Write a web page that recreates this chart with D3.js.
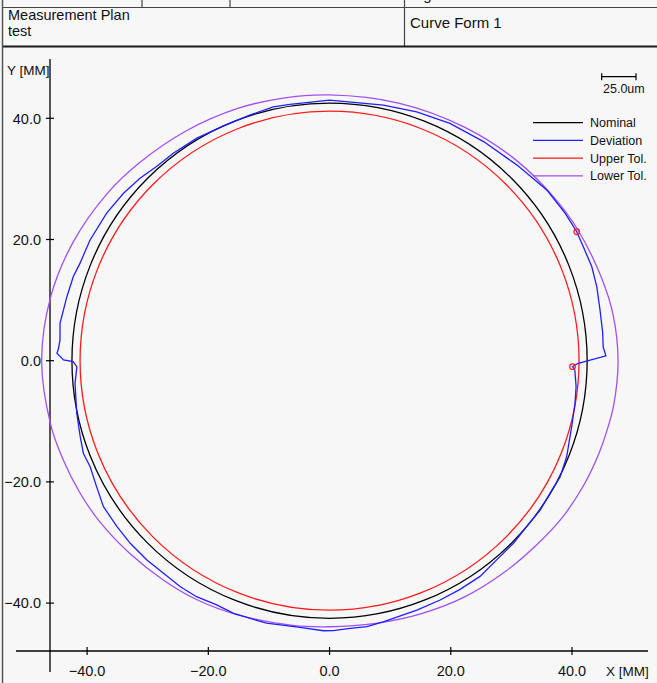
<!DOCTYPE html>
<html>
<head>
<meta charset="utf-8">
<script src="https://cdn.jsdelivr.net/npm/d3@7"></script>
<style>
  html, body { margin: 0; padding: 0; background: #f7f7f7; }
  svg { display: block; font-family: "Liberation Sans", Arial, sans-serif; }
</style>
</head>
<body>
<svg id="chart" width="657" height="683"></svg>
<script>
// ---------- DATA ----------
const xTicks = [-40, -20, 0, 20, 40];
const yTicks = [-40, -20, 0, 20, 40];
const seriesNames = ["Nominal", "Deviation", "Upper Tol.", "Lower Tol."];
const seriesColors = ["#000000", "#1f1fff", "#ff1a1a", "#a24ff0"];

// Nominal and upper tolerance circles (radius in MM, plot units)
const nominalRadius = 42.5;
const upperTolRadius = 41.16;

// Lower tolerance: polar table (angle deg, radius MM)
const lowerTolAngles = [0, 9, 17, 28, 36, 47, 60, 75, 90, 100, 110, 122, 134, 143, 155, 167, 180,
  193, 200, 208, 215, 224, 233, 241, 250, 262, 270, 280, 290, 300, 310, 318, 326, 334, 341, 346, 351];
const lowerTolRadii = [47.6, 47.4, 46.9, 46.3, 45.8, 45.2, 44.5, 44.0, 43.85, 44.0, 44.3, 44.7, 45.3, 45.9, 46.6, 47.2, 47.5,
  47.2, 46.9, 46.6, 46.3, 45.8, 45.4, 45.1, 44.6, 44.1, 43.9, 44.0, 44.4, 44.9, 45.3, 45.7, 46.3, 46.7, 47.0, 47.2, 47.45];

// Deviation: measured path (angle deg, radius MM), in scan order from the start point
const deviationAngles = [358.6, 357.8, 354, 350.2, 344.8, 338, 333.3, 329, 324.7, 319.9, 315.2, 310, 304.9, 299.6, 294.8,
  289.3, 281.6, 278, 274.4, 270.8, 268.7, 263.7, 256.5, 249.2, 245.2, 240.6, 236.5, 232, 227.5, 222.5, 218, 212.8,
  208.4, 203.9, 200.6, 196.9, 191.75, 185.1, 181.4, 180.2, 179.85, 178.4, 177.7, 175.6, 172.1, 166.3, 161.8, 158.7,
  153.3, 146.5, 140.9, 136.1, 131.7, 127, 120.8, 114.4, 108, 102.5, 98.8, 90, 78.1, 70.7, 63.1, 54.9, 46.3, 38, 32,
  27.55, 24.2, 19.7, 15.5, 10.6, 6, 2.9, 1, 359.4];
const deviationRadii = [40.1, 40.5, 40.9, 41.1, 41.4, 42.2, 42.6, 42.45, 42.6, 42.5, 42.75, 42.9, 43.4, 43.45, 43.5,
  43.6, 44.0, 44.3, 44.3, 44.56, 44.57, 44.26, 44.55, 44.6, 44.4, 44.7, 44.7, 44.5, 44.6, 44.6, 44.5, 44.4,
  43.7, 43.2, 43.4, 43.0, 42.6, 42.16, 41.7, 42.3, 43.9, 45.0, 44.8, 44.6, 44.9, 44.6, 44.5, 44.2,
  44.25, 44.1, 43.8, 43.4, 42.9, 42.85, 42.75, 42.5, 42.6, 42.9, 42.8, 43.0, 43.1, 43.5, 43.9, 44.2, 44.7, 45.6, 45.85,
  46.0, 45.9, 45.96, 45.75, 45.4, 45.3, 45.2, 45.6, 41.05];
// Marked deviation points (indices into the deviation arrays)
const markedPoints = [0, 67];

const scaleBarLabel = "25.0um";
const scaleBarMM = 5.66; // 25 um shown at this plot length

const headerLeft1 = "Measurement Plan";
const headerLeft2 = "test";
const headerRight = "Curve Form 1";
const headerTopCut = "Signature";

// ---------- DRAW ----------
const svg = d3.select("#chart");
const W = 657, H = 683;
svg.append("rect").attr("width", W).attr("height", H).attr("fill", "#f7f7f7");

const x = d3.scaleLinear().domain([-40, 40]).range([87.1, 572]);
const y = d3.scaleLinear().domain([-40, 40]).range([603.1, 118.3]);
const rad = d => d * Math.PI / 180;

// Header table
const gH = svg.append("g");
gH.append("text").attr("x", 410).attr("y", -0.5).attr("font-size", 15).attr("fill", "#111").text(headerTopCut);
gH.append("line").attr("x1", 2).attr("x2", W).attr("y1", 7.5).attr("y2", 7.5).attr("stroke", "#444").attr("stroke-width", 1.2);
[142, 230].forEach(px => gH.append("line").attr("x1", px).attr("x2", px).attr("y1", 0).attr("y2", 7.5).attr("stroke", "#444").attr("stroke-width", 1.2));
gH.append("line").attr("x1", 404.5).attr("x2", 404.5).attr("y1", 0).attr("y2", 46).attr("stroke", "#444").attr("stroke-width", 1.2);
gH.append("line").attr("x1", 2).attr("x2", W).attr("y1", 46.5).attr("y2", 46.5).attr("stroke", "#1a1a1a").attr("stroke-width", 2);
gH.append("line").attr("x1", 2.5).attr("x2", 2.5).attr("y1", 0).attr("y2", H).attr("stroke", "#555").attr("stroke-width", 1.5);
gH.append("text").attr("x", 8).attr("y", 19.8).attr("font-size", 14.5).attr("fill", "#111").text(headerLeft1);
gH.append("text").attr("x", 8).attr("y", 35.5).attr("font-size", 14.5).attr("fill", "#111").text(headerLeft2);
gH.append("text").attr("x", 410).attr("y", 27.5).attr("font-size", 15).attr("fill", "#111").text(headerRight);

// Axes
const gA = svg.append("g").attr("stroke", "#000");
gA.append("line").attr("x1", 50).attr("x2", 50).attr("y1", 59).attr("y2", 672).attr("stroke-width", 1.3);
gA.append("line").attr("x1", 16).attr("x2", 648).attr("y1", 651).attr("y2", 651).attr("stroke-width", 1.3);
yTicks.forEach(v => {
  gA.append("line").attr("x1", 46).attr("x2", 54).attr("y1", y(v)).attr("y2", y(v)).attr("stroke-width", 1.2);
});
xTicks.forEach(v => {
  gA.append("line").attr("x1", x(v)).attr("x2", x(v)).attr("y1", 647).attr("y2", 655).attr("stroke-width", 1.2);
});
const fmt = d3.format(".1f");
const gT = svg.append("g").attr("font-size", 14.5).attr("fill", "#111");
yTicks.forEach(v => {
  gT.append("text").attr("x", 41).attr("y", y(v)).attr("dy", "0.36em").attr("text-anchor", "end").text(fmt(v));
});
xTicks.forEach(v => {
  gT.append("text").attr("x", x(v)).attr("y", 675.5).attr("text-anchor", "middle").text(fmt(v));
});
gT.append("text").attr("x", 7).attr("y", 75).attr("font-size", 13.5).text("Y [MM]");
gT.append("text").attr("x", 606).attr("y", 675.5).attr("font-size", 13.5).text("X [MM]");

// Curves
const polarLine = d3.line()
  .x(d => x(d[1] * Math.cos(rad(d[0]))))
  .y(d => y(d[1] * Math.sin(rad(d[0]))));

const gC = svg.append("g").attr("fill", "none");
// Lower tol
gC.append("path")
  .datum(lowerTolAngles.map((a, i) => [a, lowerTolRadii[i]]))
  .attr("d", polarLine.curve(d3.curveCatmullRomClosed))
  .attr("stroke", seriesColors[3]).attr("stroke-width", 1.3);
// Upper tol
gC.append("circle").attr("cx", x(0)).attr("cy", y(0))
  .attr("r", x(upperTolRadius) - x(0))
  .attr("stroke", seriesColors[2]).attr("stroke-width", 1.3);
// Nominal
gC.append("circle").attr("cx", x(0)).attr("cy", y(0))
  .attr("r", x(nominalRadius) - x(0))
  .attr("stroke", seriesColors[0]).attr("stroke-width", 1.3);
// Deviation
const devData = deviationAngles.map((a, i) => [a, deviationRadii[i]]);
gC.append("path")
  .datum(devData)
  .attr("d", d3.line()
    .x(d => x(d[1] * Math.cos(rad(d[0]))))
    .y(d => y(d[1] * Math.sin(rad(d[0]))))
    .curve(d3.curveLinearClosed))
  .attr("stroke", seriesColors[1]).attr("stroke-width", 1.3);
// Markers
markedPoints.forEach(i => {
  const d = devData[i];
  gC.append("circle")
    .attr("cx", x(d[1] * Math.cos(rad(d[0]))))
    .attr("cy", y(d[1] * Math.sin(rad(d[0]))))
    .attr("r", 2.8).attr("stroke", "#ff1a1a").attr("stroke-width", 1.2);
});

// Scale bar
const gS = svg.append("g").attr("stroke", "#000").attr("stroke-width", 1.2);
const sbX0 = 601.7, sbY = 76.7, sbLen = x(scaleBarMM) - x(0);
gS.append("line").attr("x1", sbX0).attr("x2", sbX0 + sbLen).attr("y1", sbY).attr("y2", sbY);
gS.append("line").attr("x1", sbX0).attr("x2", sbX0).attr("y1", sbY - 3.5).attr("y2", sbY + 3.5);
gS.append("line").attr("x1", sbX0 + sbLen).attr("x2", sbX0 + sbLen).attr("y1", sbY - 3.5).attr("y2", sbY + 3.5);
svg.append("text").attr("x", 603).attr("y", 93).attr("font-size", 12.5).attr("fill", "#111").text(scaleBarLabel);

// Legend
const gL = svg.append("g");
seriesNames.forEach((n, i) => {
  const ly = 122.7 + i * 17.7;
  gL.append("line").attr("x1", 533).attr("x2", 583).attr("y1", ly).attr("y2", ly)
    .attr("stroke", seriesColors[i]).attr("stroke-width", 1.3);
  gL.append("text").attr("x", 590).attr("y", ly + 4.5).attr("font-size", 12.5).attr("fill", "#111").text(n);
});
</script>
</body>
</html>
